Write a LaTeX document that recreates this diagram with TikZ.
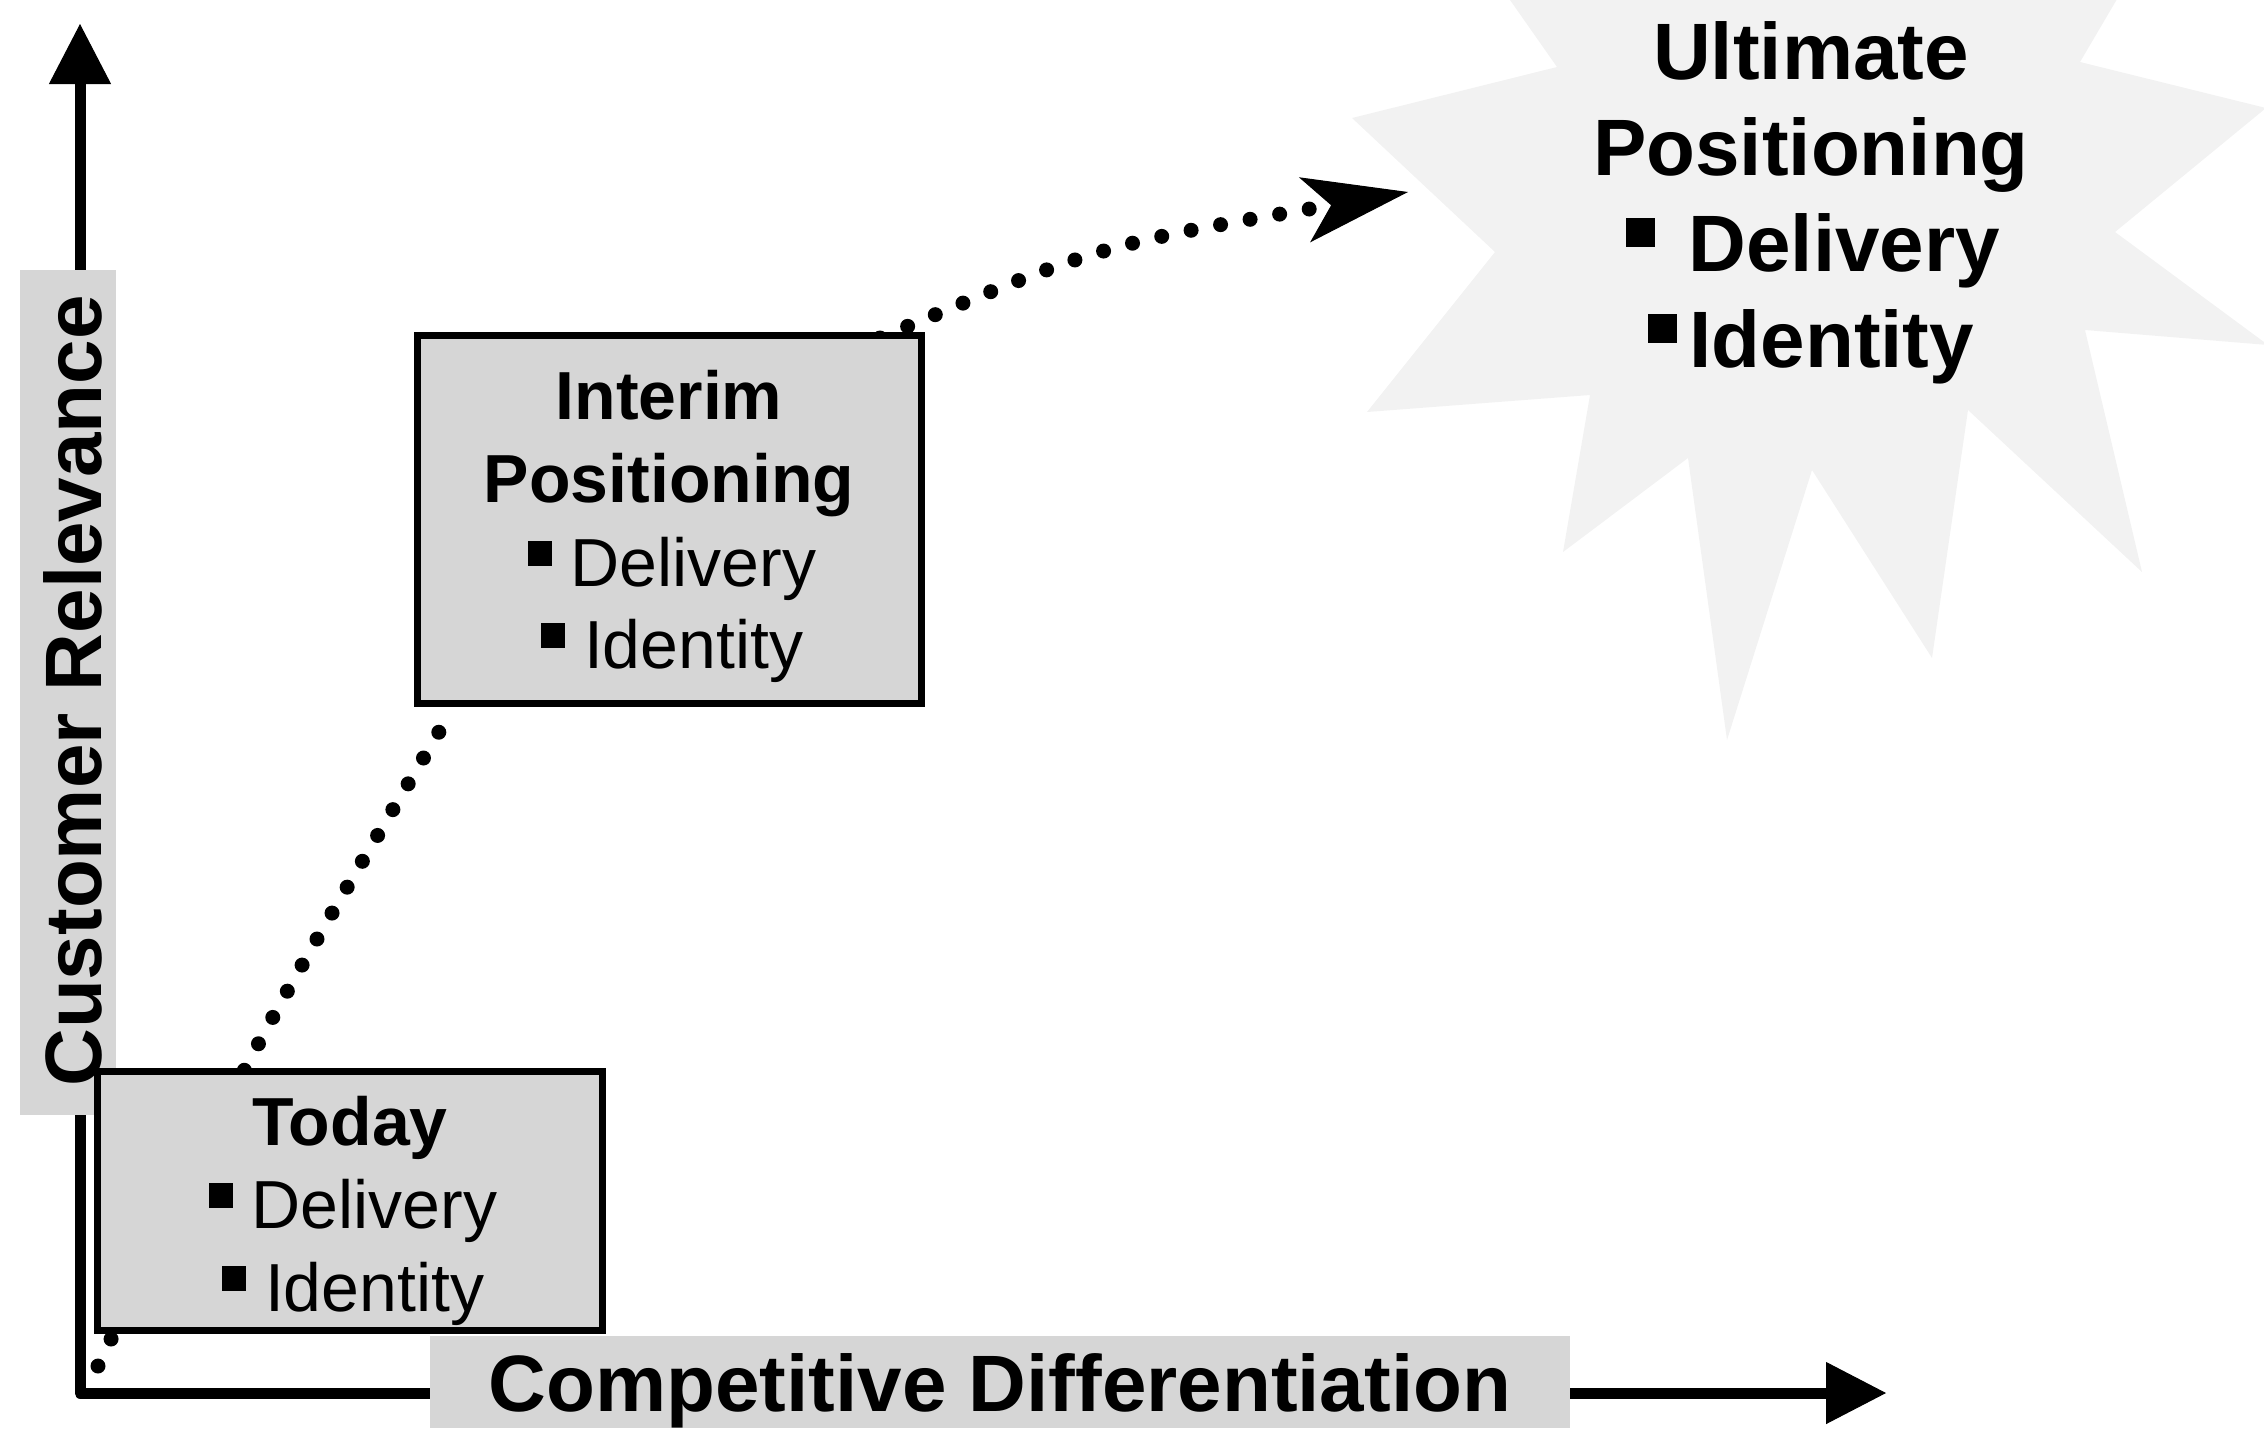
\documentclass[tikz,border=0pt]{standalone}
\usepackage{fontspec}
\setmainfont{Liberation Sans}
\usetikzlibrary{arrows.meta}

% small filled square used as a list bullet
\newcommand\sqmark{\rule[0.3em]{0.36em}{0.36em}}

\tikzset{
  axistip/.tip={Triangle[length=60pt, width=62pt, line width=1pt]},
  headtip/.tip={Stealth[length=105pt, width=66pt, inset=27pt, line width=1pt]}
}

\begin{document}
\begin{tikzpicture}[x=1pt,y=-1pt,
  halftone/.style={fill=black!16},
  burstfill/.style={fill=black!5},
  box/.style={draw, line width=7pt, halftone, rectangle, inner sep=0pt, outer sep=0pt},
  tagbox/.style={halftone, rectangle, inner sep=0pt, outer sep=0pt},
  axis/.style={line width=11pt, line join=round},
  dotline/.style={line width=15pt, line cap=round, dash pattern=on 0pt off 30pt},
  boxtext/.style={font=\fontsize{68}{80}\selectfont, inner sep=0pt, anchor=base},
  boxhead/.style={font=\fontsize{68}{80}\selectfont\bfseries, inner sep=0pt, anchor=base},
  bigtext/.style={font=\fontsize{80}{96}\selectfont\bfseries, inner sep=0pt, anchor=base}
]
\useasboundingbox (0,0) rectangle (2264,1428);

% starburst behind the goal label
\begin{scope}
  \clip (0,0) rectangle (2264,1428);
  \fill[burstfill] (1500,-50) -- (1510,0) -- (1557,67) -- (1352,118) -- (1495,252)
    -- (1367,412) -- (1590,395) -- (1563,552) -- (1688,458) -- (1727,740)
    -- (1812,470) -- (1932,658) -- (1968,410) -- (2142,572) -- (2085,330)
    -- (2268,345) -- (2115,232) -- (2266,108) -- (2080,62) -- (2140,-40) -- cycle;
\end{scope}

% axes
\coordinate (ytip) at (80,24);
\coordinate (orig) at (80,1393);
\coordinate (xtip) at (1886,1393);
\draw[axis, axistip-axistip] (ytip) -- (orig) -- (xtip);

% dotted path from the origin to the interim box
\coordinate (d1s) at (98,1366);
\coordinate (d1e) at (452,710);
\draw[dotline] (d1s) .. controls (256,1040) .. (d1e);

% dotted arrow from the interim box to the goal
\coordinate (d2s) at (880,338);
\coordinate (d2e) at (1408,192);
\draw[dotline, -headtip] (d2s) .. controls (1100,245) .. (d2e);

\node[box, minimum width=504pt, minimum height=368pt] (interim) at (669,519) {};

% axis titles
\node[tagbox, minimum width=96pt, minimum height=845pt] (ytag) at (68,692.5) {};
\node[bigtext, rotate=90] (ytitle) at (101,691) {Customer Relevance};
\node[tagbox, minimum width=1140pt, minimum height=92pt] (xtag) at (1000,1382) {};
\node[bigtext] (xtitle) at (1000,1411) {Competitive Differentiation};

\node[box, minimum width=505pt, minimum height=259pt] (today) at (349.5,1200.5) {};

% box texts
\node[boxhead] (today-t) at (350,1145) {Today};
\node[boxtext] (today-d) at (353,1228) {\sqmark\ Delivery};
\node[boxtext] (today-i) at (353,1311) {\sqmark\ Identity};

\node[boxhead] (interim-t1) at (669,419) {Interim};
\node[boxhead] (interim-t2) at (669,502) {Positioning};
\node[boxtext] (interim-d) at (672,586) {\sqmark\ Delivery};
\node[boxtext] (interim-i) at (672,668) {\sqmark\ Identity};

\node[bigtext] (goal-t1) at (1811,79) {Ultimate};
\node[bigtext] (goal-t2) at (1811,175) {Positioning};
\node[bigtext] (goal-d) at (1813,271) {\sqmark\hspace{0.42em}Delivery};
\node[bigtext] (goal-i) at (1811,367) {\sqmark\hspace{0.16em}Identity};
\end{tikzpicture}
\end{document}
